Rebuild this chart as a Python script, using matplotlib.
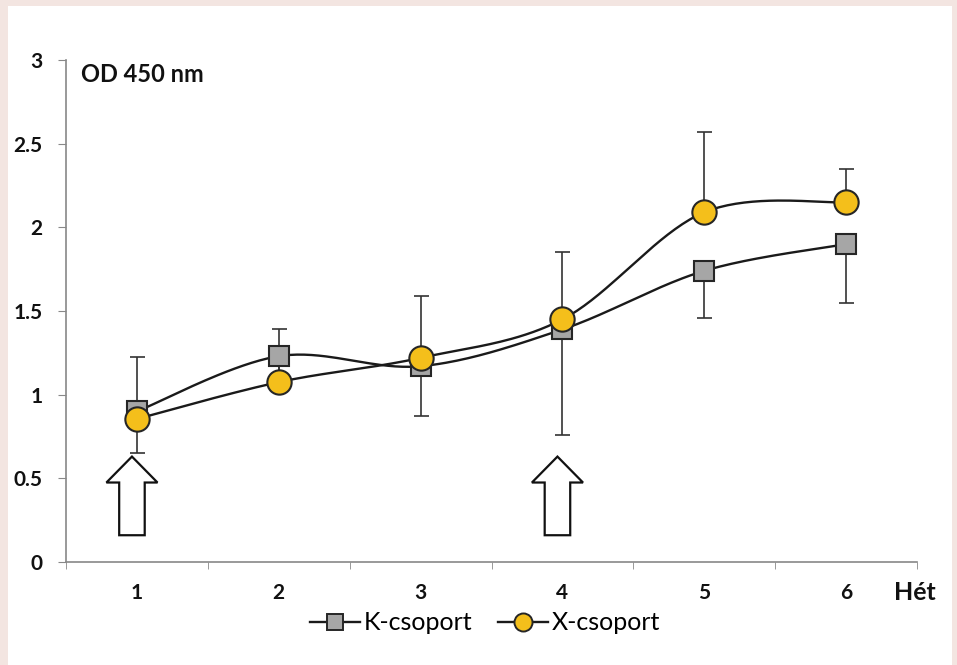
import numpy as np
import matplotlib.pyplot as plt
from matplotlib.patches import Rectangle, FancyArrow
from matplotlib.lines import Line2D

weeks = [1, 2, 3, 4, 5, 6]
k_mean = [0.90, 1.23, 1.17, 1.39, 1.74, 1.90]
k_err_low = [0.25, 0.15, 0.30, 0.63, 0.28, 0.35]
x_mean = [0.855, 1.075, 1.22, 1.45, 2.09, 2.15]
x_err_up = [0.37, 0.32, 0.37, 0.40, 0.48, 0.20]
arrow_weeks = [1, 4]

plt.rcParams['font.family'] = ['Lato', 'DejaVu Sans']


def smooth(xs, ys, n=40):
    # Excel-style smoothed line (Catmull-Rom as cubic Bezier)
    p = np.column_stack([xs, ys]).astype(float)
    p = np.vstack([p[0], p, p[-1]])
    out = []
    for i in range(1, len(p) - 2):
        b0 = p[i]
        b3 = p[i + 1]
        b1 = b0 + (p[i + 1] - p[i - 1]) / 6
        b2 = b3 - (p[i + 2] - p[i]) / 6
        t = np.linspace(0, 1, n)[:, None]
        seg = (1 - t) ** 3 * b0 + 3 * (1 - t) ** 2 * t * b1 + 3 * (1 - t) * t ** 2 * b2 + t ** 3 * b3
        out.append(seg if i == 1 else seg[1:])
    out = np.vstack(out)
    return out[:, 0], out[:, 1]


fig = plt.figure(figsize=(9.57, 6.65), dpi=100)
fig.patch.set_facecolor('#F3E5E1')
fig.add_artist(Rectangle((8 / 957, 0), 944 / 957, 659 / 665, transform=fig.transFigure,
                         facecolor='white', edgecolor='none', zorder=0))

ax = fig.add_axes([66 / 957, 103 / 665, 851 / 957, 502 / 665])
ax.set_facecolor('none')

# error bars (one-sided)
ax.errorbar(weeks, x_mean, yerr=[np.zeros(6), x_err_up], fmt='none', ecolor='#333333',
            elinewidth=1.2, capsize=5.4, capthick=1.2, zorder=2)
ax.errorbar(weeks, k_mean, yerr=[k_err_low, np.zeros(6)], fmt='none', ecolor='#333333',
            elinewidth=1.2, capsize=5.4, capthick=1.2, zorder=2)

sx, sy = smooth(weeks, k_mean)
ax.plot(sx, sy, color='#1a1a1a', lw=1.7, zorder=3)
ax.plot(weeks, k_mean, ls='none', marker='s', ms=14, mfc='#A6A6A6', mec='#262626', mew=1.5, zorder=4)

sx, sy = smooth(weeks, x_mean)
ax.plot(sx, sy, color='#1a1a1a', lw=1.7, zorder=5)
ax.plot(weeks, x_mean, ls='none', marker='o', ms=17.5, mfc='#F4BF1B', mec='#262626', mew=1.5, zorder=6)

# block arrows marking treatments
for w in arrow_weeks:
    ax.add_patch(FancyArrow(w - 0.035, 0.16, 0, 0.47, width=0.18, head_width=0.36,
                            head_length=0.155, length_includes_head=True,
                            facecolor='white', edgecolor='#111111', lw=1.6, zorder=3))

ax.set_xlim(0.5, 6.5)
ax.set_ylim(0, 3)
ax.set_yticks([0, 0.5, 1, 1.5, 2, 2.5, 3])
ax.set_yticklabels(['0', '0.5', '1', '1.5', '2', '2.5', '3'])
ax.set_xticks(weeks)
ax.set_xticklabels([str(w) for w in weeks])
ax.set_xticks(np.arange(0.5, 7, 1), minor=True)
ax.tick_params(axis='x', which='major', length=0, pad=15, labelsize=15, colors='#111111')
ax.tick_params(axis='x', which='minor', length=5, color='#888888', direction='out')
ax.tick_params(axis='y', length=6, color='#888888', pad=11, labelsize=15, colors='#111111')
for lab in ax.get_xticklabels() + ax.get_yticklabels():
    lab.set_fontweight('bold')
for s in ['top', 'right']:
    ax.spines[s].set_visible(False)
for s in ['left', 'bottom']:
    ax.spines[s].set_color('#888888')
    ax.spines[s].set_linewidth(1.2)
ax.spines['bottom'].set_bounds(0.5, 6.5)

fig.text(81 / 957, 1 - 75 / 665, 'OD 450 nm', fontsize=17, fontweight='bold',
         ha='left', va='center', color='#111111')
fig.text(936 / 957, 1 - 593 / 665, 'Hét', fontsize=18, fontweight='bold', ha='right',
         va='center', color='#111111')

handles = [
    Line2D([], [], color='#1a1a1a', lw=1.7, marker='s', ms=12, mfc='#A6A6A6', mec='#262626', mew=1.4),
    Line2D([], [], color='#1a1a1a', lw=1.7, marker='o', ms=13, mfc='#F4BF1B', mec='#262626', mew=1.4),
]
fig.legend(handles, ['K-csoport', 'X-csoport'], loc='center', bbox_to_anchor=(485 / 957, 1 - 623 / 665),
           ncol=2, frameon=False, fontsize=18, handlelength=2.0, handletextpad=0.15,
           columnspacing=1.0, borderpad=0)

fig.savefig('out.png', dpi=100)
